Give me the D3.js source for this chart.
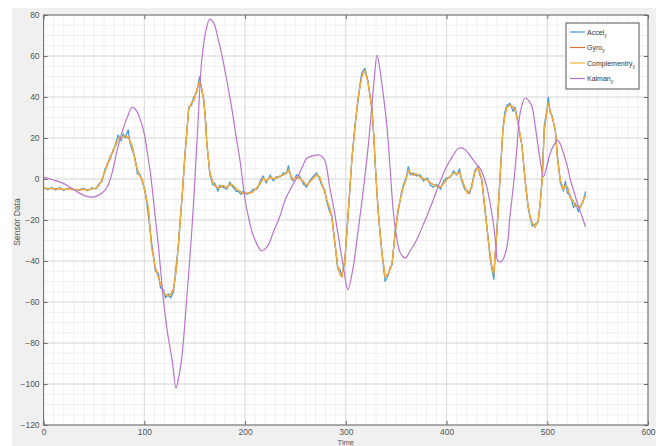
<!DOCTYPE html>
<html><head><meta charset="utf-8">
<script src="https://cdn.jsdelivr.net/npm/d3@7"></script>
<style>body{margin:0;background:#fff}svg{display:block}text{font-family:"Liberation Sans",Arial,sans-serif}</style>
</head><body><div id="chart"></div>
<script>
// ---------- data ----------
const time = [0,4,8,12,16,20,24,28,32,36,
40,44,48,52,55,58,61,63,66,69,
72,74,77,79,81,84,86,88,91,93,
96,98,101,104,107,111,114,116,119,121,
124,126,129,132,134,136,138,140,142,144,
147,149,152,154,155,157,159,161,162,164,
165,168,170,173,175,178,182,185,188,191,
193,196,198,202,205,208,212,215,218,221,
225,228,231,235,238,241,243,246,248,251,
254,258,261,264,268,271,274,276,279,281,
284,286,289,292,294,296,299,302,304,306,
309,312,314,316,319,322,324,326,328,329,
332,334,336,339,342,344,346,349,352,355,
357,360,362,364,367,370,374,377,381,384,
387,390,394,397,400,404,407,410,413,415,
418,421,423,425,428,431,433,435,438,441,
443,445,447,448,450,453,456,458,460,463,
466,468,471,473,475,478,481,483,485,488,
491,493,495,497,500,501,503,505,508,510,
513,516,518,520,523,526,528,531,533,535,538];
const complementary = [-4.2,-4.8,-4.5,-5,-4.6,-5.2,-4.8,-5.3,-5,-5.5,
-5,-5.4,-4.8,-4.5,-3,-0.5,4,7,10,14,
17,20,19.5,21,21,20.5,18,15.6,9,4.4,
1,-0.5,-7,-13.6,-33,-43,-48,-51,-55,-56.6,
-57,-56.6,-54,-43,-30,-18.5,-5,9,22,34,
37,38.5,43,47,48,44,38.5,27,17.5,8,
2.9,-2,-3,-4.5,-4,-3,-4.4,-2.5,-3,-5,
-5.4,-6.5,-7,-6.5,-7,-6,-4.4,-2,0.5,-1,
1,0,0.5,1.5,2,3,4.4,1,-0.5,1,
0.5,-1.5,-3,-1.5,0.5,2,1,-2,-6,-10,
-14,-18.5,-30,-43,-46,-48,-39.5,-20,-5,9.3,
25,38.5,45,50,53,47,41,34,20,9.3,
-15,-26,-36,-48,-46,-44,-41,-26,-15,-8,
-4,0,4.4,3,2,2.5,1,0,-0.5,-2,
-3,-3.5,-4,-2,-0.5,1.5,3,2.5,3.4,0,
-4,-7,-6,-4,3.4,5.4,3,-0.5,-13.6,-28,
-36,-43,-46,-38,-26,-0.5,24,31,35,36,
35,34,27,22,15.6,-0.5,-13.6,-18,-21.5,-23.4,
-20,-12,-0.5,24,34,37,33,30,24,10.7,
-0.5,-5.4,-3,-4,-9,-11,-13.6,-13,-14,-11,-8];
const accel = [-4.0,-5.2,-4.1,-5.4,-4.2,-5.6,-4.5,-5.0,-5.4,-5.2,
-4.6,-5.8,-4.3,-4.9,-2.4,-1.2,5,6.2,11,13.2,
18,21.5,18.5,22,20,24,17,14,10,2.5,
2,-1.5,-6,-18,-30,-45,-46,-53,-54,-58,
-56,-58,-55,-40,-32,-17,-6,11,21,35,
36,40,42,48,50,43,39,26,18,7,
2,-3,-2,-6,-3,-4,-5,-1.5,-4,-6,
-6,-7.5,-6,-7.5,-6.5,-5,-5,-1,1.5,-2,
2,-1,1,1,3,2.5,6.5,0,-1,2,
1.5,-2.5,-4,-1,1.5,3,0,-3,-5,-11,
-16,-17,-31,-44,-44,-47,-41,-18,-6,10,
26,37,46,52,54,48,40,35,18,8,
-14,-27,-37,-50,-47,-43,-42,-25,-16,-7,
-3,1,6,2,3,1.5,2,-1,0.5,-3,
-4,-2.5,-5,-1,0.5,1,4,2,5,-1,
-5,-6,-7,-3,4,6,2,0,-15,-27,
-38,-44,-49,-40,-25,1,25,33,36,37,
33,35,28,21,16,-1,-14,-19,-23,-22,
-21,-11,1,26,35,40,32,31,23,12,
-2,-6,-1,-7,-8,-14,-12,-16,-13,-12,-6];
const gyro = [-4.4,-4.6,-4.7,-4.8,-4.8,-5.0,-5.0,-5.1,-5.2,-5.3,
-5.1,-5.2,-5.0,-4.4,-3.2,-0.2,3.6,7.4,9.6,14.4,
16.6,19.6,20,20.6,21.2,20,18.4,16,8.6,4.8,
1.2,-0.2,-7.4,-14,-32,-43.6,-48,-51.4,-55.4,-56.4,
-57.2,-56.4,-53.6,-43.4,-30.6,-18.8,-4.6,8.6,22.4,33.6,
37.4,38.2,43.4,46.6,47.6,44.4,38,27.4,17,8.4,
3.2,-1.6,-3.4,-4.2,-4.2,-3.4,-4,-2.8,-3.2,-4.6,
-5.6,-6.2,-7.2,-6.6,-6.8,-6.2,-4,-2.4,0.2,-0.8,
0.8,0.2,0.4,1.6,1.8,3.2,4,1.2,-0.4,0.8,
0.4,-1.2,-3.2,-1.6,0.6,1.8,1.2,-2.2,-6.2,-10,
-14.4,-18.6,-30.4,-42.6,-46.2,-47.8,-39.4,-20.4,-4.6,9,
24.6,38.8,44.6,50.4,52.6,47.4,40.6,33.6,20.4,9.6,
-15.4,-25.6,-36.2,-47.6,-46.4,-44.2,-40.6,-26.4,-14.6,-8.2,
-4.2,0.2,4,3.2,1.8,2.6,0.8,0.2,-0.6,-1.8,
-2.8,-3.6,-3.8,-2.2,-0.4,1.6,2.8,2.6,3.2,0.2,
-3.8,-7.2,-5.8,-4.2,3.2,5.6,3.2,-0.6,-13.4,-28.2,
-35.6,-42.6,-46.4,-38.4,-26.4,-0.8,23.6,31.2,34.8,36.2,
35.2,33.6,27.4,21.6,15.8,-0.6,-13.2,-18.2,-21.6,-23.6,
-20.2,-12.2,-0.4,23.6,34.4,36.6,33.4,29.6,24.2,10.4,
-0.6,-5.2,-3.2,-3.8,-9.2,-10.8,-13.4,-13.2,-13.8,-11.2,-8.2];
const kalmanTime = [0,10,19,28,36,43,49,56,63,68,
73,78,83,88,92,96,100,103,106,109,
114,119,123,127.5,131.5,134,137,142,147,150,
153,157,161,165,169,173,178,183,187,191,
195,200,204,207,212,216,222,228,234,240,
246,252,257,261,267,274,279,284,288,291,
298,302,307,312,317,321,324,329,331,334,
338,341,344,347,350,354,359,364,370,378,
387,393,400,406,412,418,424,430,433,437,
440,446,449,451,455,460,463,467,470,473,
478,482,485,488,491,494,496,499,503,507,
510,513,516,520,523,527,531,535,538];
const kalman = [0.8,-0.5,-2,-4.5,-7,-8.5,-8.8,-7.5,-4,3,
14,23,30,35,33.5,29,22,12.7,3,-10,
-33,-59,-75,-88,-102,-97,-88,-59,-26,-2,
25,58,72,78,76,69,58,45,34,21,
9,-10,-20,-26,-32,-35,-33,-26,-19,-10,
-4,1,6,10,11.3,11.7,9.3,-4,-14,-23,
-44,-54,-44,-26,-7,10,25,53,60.5,53,
38,25,5,-15,-27,-36,-38.5,-35,-30,-21,
-10,-2,6,11,15,14.5,11,7,5.4,1,
-4,-20,-32,-40,-40,-33,-18,-0.5,16,32,
39.5,38,35,26,15.6,6,1,5,12.7,17,
19,17,12.7,6,-0.5,-7,-13.6,-19,-23.4];
const xTicks = [0,100,200,300,400,500,600];
const yTicks = [-120,-100,-80,-60,-40,-20,0,20,40,60,80];
const seriesNames = ["Accel","Gyro","Complementry","Kalman"];
const seriesColors = ["#3f9bd8","#e0703a","#f0b43c","#b874cd"];

// ---------- chart ----------
const W = 656, H = 446;
const svg = d3.select("#chart").append("svg").attr("width", W).attr("height", H);
svg.append("rect").attr("width", W).attr("height", H).attr("fill", "#fff");
svg.append("rect").attr("x", 12).attr("y", 8).attr("width", W - 12).attr("height", H - 8).attr("fill", "#f0f0f0");

const x = d3.scaleLinear().domain([0, 600]).range([43.6, 648]);
const y = d3.scaleLinear().domain([-120, 80]).range([425, 15]);
const [x0, x1] = x.range(), [y0, y1] = [y(80), y(-120)];

svg.append("rect").attr("x", x0).attr("y", y0).attr("width", x1 - x0).attr("height", y1 - y0).attr("fill", "#fff");

// grid
const g = svg.append("g");
g.selectAll(".mx").data(d3.range(0, 601, 10)).join("line")
  .attr("x1", d => x(d)).attr("x2", d => x(d)).attr("y1", y0).attr("y2", y1)
  .attr("stroke", "#ececec").attr("stroke-width", 0.8);
g.selectAll(".my").data(d3.range(-120, 81, 5)).join("line")
  .attr("y1", d => y(d)).attr("y2", d => y(d)).attr("x1", x0).attr("x2", x1)
  .attr("stroke", "#ececec").attr("stroke-width", 0.8);
g.selectAll(".Mx").data(xTicks).join("line")
  .attr("x1", d => x(d)).attr("x2", d => x(d)).attr("y1", y0).attr("y2", y1)
  .attr("stroke", "#dcdcdc").attr("stroke-width", 1);
g.selectAll(".My").data(yTicks).join("line")
  .attr("y1", d => y(d)).attr("y2", d => y(d)).attr("x1", x0).attr("x2", x1)
  .attr("stroke", "#dcdcdc").attr("stroke-width", 1);

// lines
svg.append("clipPath").attr("id", "clip").append("rect")
  .attr("x", x0).attr("y", y0).attr("width", x1 - x0).attr("height", y1 - y0);
const lineGen = d3.line().x(d => x(d[0])).y(d => y(d[1]));
const smoothGen = d3.line().x(d => x(d[0])).y(d => y(d[1])).curve(d3.curveCatmullRom);
const series = [
  time.map((t, i) => [t, accel[i]]),
  time.map((t, i) => [t, gyro[i]]),
  time.map((t, i) => [t, complementary[i]]),
  kalmanTime.map((t, i) => [t, kalman[i]])
];
const lg = svg.append("g").attr("clip-path", "url(#clip)");
series.forEach((s, i) => {
  lg.append("path").datum(s).attr("fill", "none")
    .attr("stroke", seriesColors[i]).attr("stroke-width", 1.2)
    .attr("stroke-linejoin", "round")
    .attr("d", i === 3 ? smoothGen : lineGen);
});

// axes
const axColor = "#6a6a6a";
const styleAxis = sel => {
  sel.select(".domain").remove();
  sel.selectAll(".tick line").attr("stroke", axColor);
  sel.selectAll(".tick text").attr("fill", "#555").style("font-size", "8.5px")
     .style("font-family", "'Liberation Sans', Arial, sans-serif");
};
svg.append("g").attr("transform", `translate(0,${y1})`)
  .call(d3.axisBottom(x).tickValues(xTicks).tickSizeInner(-4).tickSizeOuter(0).tickPadding(4))
  .call(styleAxis);
svg.append("g").attr("transform", `translate(${x0},0)`)
  .call(d3.axisLeft(y).tickValues(yTicks).tickSizeInner(-4).tickSizeOuter(0).tickPadding(4))
  .call(styleAxis);
svg.append("g").attr("transform", `translate(0,${y0})`)
  .call(d3.axisTop(x).tickValues(xTicks).tickSizeInner(-4).tickSizeOuter(0).tickFormat(""))
  .call(styleAxis);
svg.append("g").attr("transform", `translate(${x1},0)`)
  .call(d3.axisRight(y).tickValues(yTicks).tickSizeInner(-4).tickSizeOuter(0).tickFormat(""))
  .call(styleAxis);
svg.append("rect").attr("x", x0).attr("y", y0).attr("width", x1 - x0).attr("height", y1 - y0)
  .attr("fill", "none").attr("stroke", axColor).attr("stroke-width", 1);

// labels
svg.append("text").attr("transform", `translate(20,${(y0 + y1) / 2 + 2}) rotate(-90)`)
  .attr("text-anchor", "middle").attr("fill", "#555").style("font-size", "8.5px").text("Sensor Data");
svg.append("text").attr("x", (x0 + x1) / 2).attr("y", 445)
  .attr("text-anchor", "middle").attr("fill", "#555").style("font-size", "7.5px").text("Time");

// legend
const leg = svg.append("g");
leg.append("rect").attr("x", 566).attr("y", 23).attr("width", 73).attr("height", 66)
  .attr("fill", "#fff").attr("stroke", "#555").attr("stroke-width", 1);
seriesNames.forEach((n, i) => {
  const yy = 32 + i * 15.5;
  leg.append("line").attr("x1", 570).attr("x2", 585).attr("y1", yy).attr("y2", yy)
    .attr("stroke", seriesColors[i]).attr("stroke-width", 1.2);
  const t = leg.append("text").attr("x", 587).attr("y", yy + 2.5).attr("fill", "#333").style("font-size", "7px");
  t.append("tspan").text(n);
  t.append("tspan").attr("dy", 2).style("font-size", "5px").text("y");
});
</script></body></html>
